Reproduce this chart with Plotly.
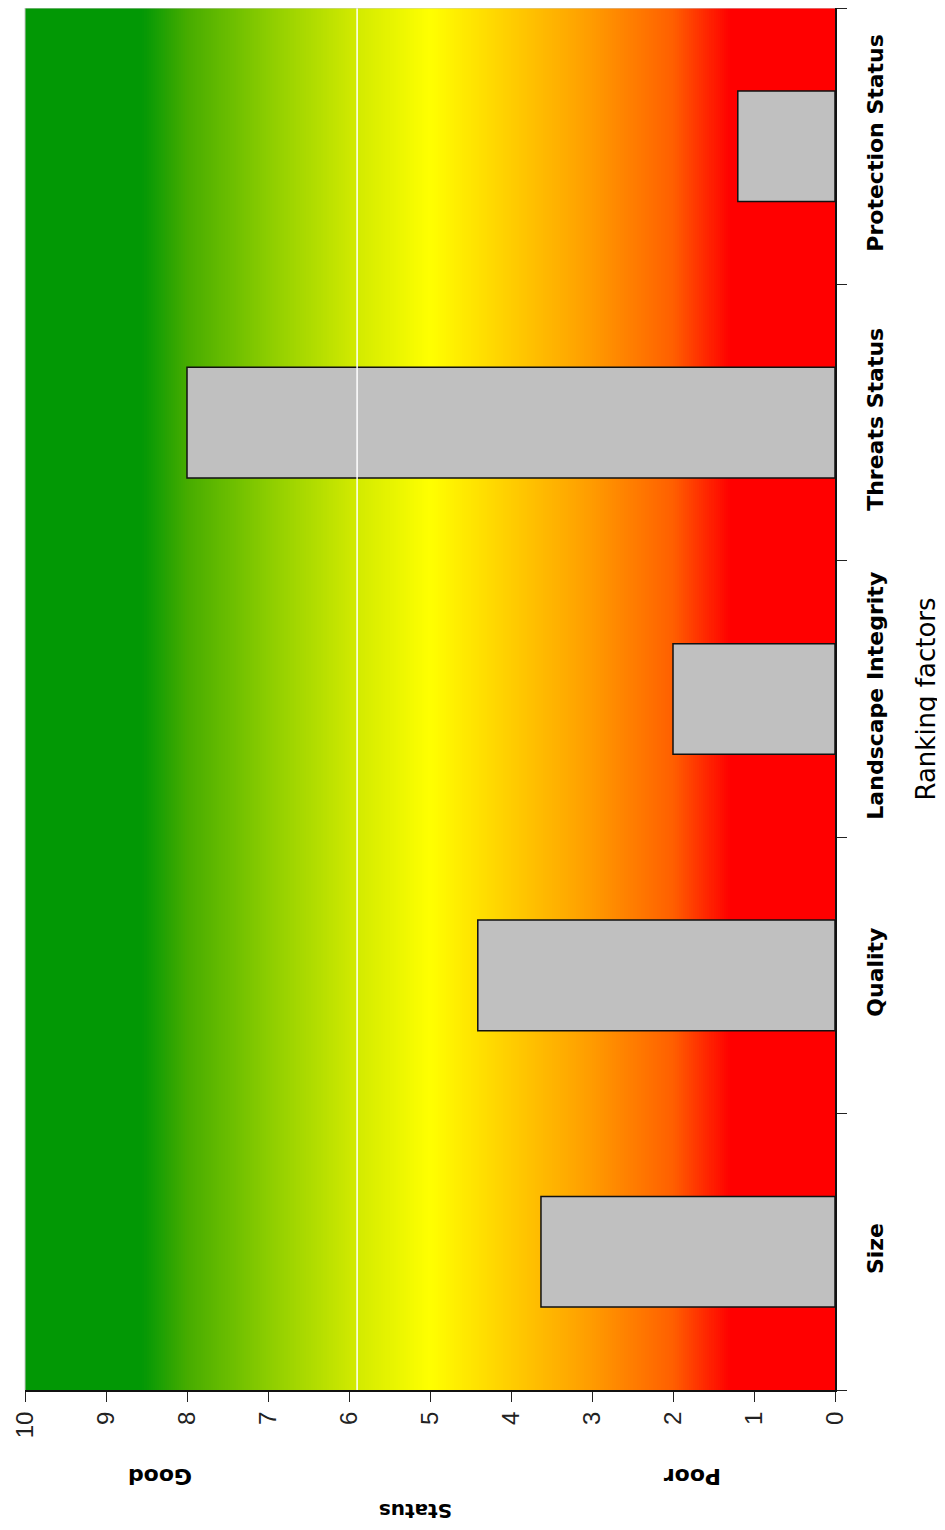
import numpy as np
import plotly.graph_objects as go

categories = ["Size", "Quality", "Landscape Integrity", "Threats Status", "Protection Status"]
values = [3.63, 4.41, 2.0, 8.0, 1.2]
value_ticks = list(range(0, 11))

# background gradient stops (status value -> colour)
grad_vals = [0, 1.3, 2, 3, 4, 5, 6, 7, 8, 8.55, 10]
grad_cols = ["rgb(255,0,0)", "rgb(255,0,0)", "rgb(255,95,0)", "rgb(255,155,0)",
             "rgb(255,205,0)", "rgb(255,255,0)", "rgb(205,232,0)", "rgb(140,205,0)",
             "rgb(70,172,0)", "rgb(2,152,5)", "rgb(2,152,5)"]
colorscale = [[v / 10, c] for v, c in zip(grad_vals, grad_cols)]

edges = np.linspace(0, 10, 401)
mids = (edges[:-1] + edges[1:]) / 2
z = [list(mids) for _ in categories]

fig = go.Figure()
fig.add_trace(go.Heatmap(x=edges, y=categories, z=z, colorscale=colorscale,
                         zmin=0, zmax=10, showscale=False, hoverinfo="skip"))
fig.add_trace(go.Bar(x=values, y=categories, orientation="h", width=0.4,
                     marker=dict(color="#c0c0c0", line=dict(color="#111111", width=1.5))))

fig.add_shape(type="line", xref="x", yref="paper", x0=5.9, x1=5.9, y0=0, y1=1,
              line=dict(color="white", width=1.5), layer="above")
fig.add_shape(type="line", xref="paper", yref="paper", x0=0, x1=1, y0=1, y1=1,
              line=dict(color="#c8c8c8", width=1), layer="above")
fig.add_shape(type="line", xref="paper", yref="paper", x0=0, x1=0, y0=0, y1=1,
              line=dict(color="#c8c8c8", width=1), layer="above")

# page body has an 8px margin; plot area spans page x 25..835, y ~8..1390
L, R, T, B = 17, 118, 0, 148
PW = 945 - L - R
PH = 1530 - T - B
px0, py_bottom = 8 + L, 8 + 1530 - B


def px(xpix):
    return (xpix - px0) / PW


def py(ypix):
    return (py_bottom - ypix) / PH


fig.update_layout(
    width=945, height=1530,
    margin=dict(l=L, r=R, t=T, b=B),
    paper_bgcolor="white", plot_bgcolor="white",
    showlegend=False,
    xaxis=dict(range=[10, 0], tickvals=value_ticks, ticktext=[str(v) for v in value_ticks],
               tickangle=-90, ticks="outside", ticklen=10, tickcolor="#222",
               showline=True, linecolor="#111", linewidth=2, showgrid=False, zeroline=False,
               tickfont=dict(family="Liberation Sans, Arial", size=24, color="#222")),
    yaxis=dict(side="right", categoryorder="array", categoryarray=categories,
               range=[-0.5, 4.5], tickangle=-90, ticks="outside", tickson="boundaries",
               ticklen=10, tickcolor="#222", showline=True, linecolor="#111", linewidth=2,
               showgrid=False, zeroline=False, ticklabelstandoff=20,
               tickfont=dict(family="DejaVu Sans", size=22, color="black", weight="bold"),
               title=dict(text="Ranking factors", standoff=29,
                          font=dict(family="DejaVu Sans", size=26, color="black"))),
)

label_font = dict(family="DejaVu Sans", size=22, color="black")
fig.add_annotation(text="<b>Good</b>", xref="paper", yref="paper", x=px(160), y=py(1477),
                   xanchor="center", yanchor="middle", textangle=180, showarrow=False,
                   font=label_font)
fig.add_annotation(text="<b>Poor</b>", xref="paper", yref="paper", x=px(693), y=py(1477),
                   xanchor="center", yanchor="middle", textangle=180, showarrow=False,
                   font=label_font)
fig.add_annotation(text="<b>Status</b>", xref="paper", yref="paper", x=px(416), y=py(1511),
                   xanchor="center", yanchor="middle", textangle=180, showarrow=False,
                   font=dict(family="DejaVu Sans", size=20, color="black"))

fig.write_html("out.html")
